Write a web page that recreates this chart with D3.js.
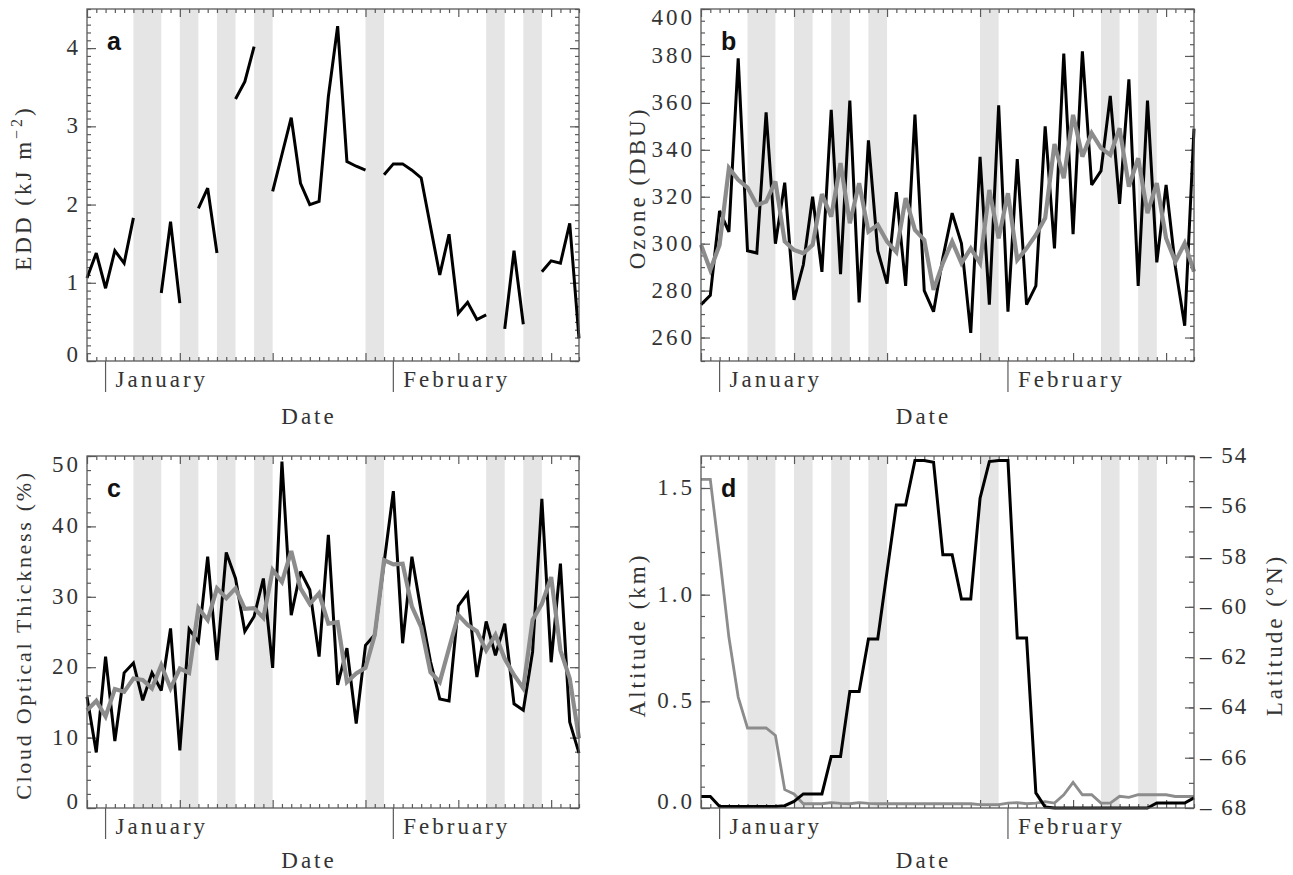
<!DOCTYPE html>
<html>
<head>
<meta charset="utf-8">
<script src="https://cdn.jsdelivr.net/npm/d3@7"></script>
<style>
  body { margin: 0; background: #fff; }
  svg { display: block; }
  text { font-family: "Liberation Serif", "DejaVu Serif", serif; fill: #333; letter-spacing: 3px; }
  .letter { font-family: "Liberation Sans", Arial, sans-serif; font-weight: bold; fill: #111; letter-spacing: 0; }
</style>
</head>
<body>
<svg id="chart" width="1293" height="875"></svg>
<script>
// day index 0 = 30 December, 2 = 1 January, 33 = 1 February
const days = d3.range(54);
const monthTicks = [{ day: 2, label: "January" }, { day: 33, label: "February" }];
const shadeBands = [[5, 8], [10, 12], [14, 16], [18, 20], [30, 32], [43, 45], [47, 49]];

// a: erythemal daily dose, kJ m^-2 (null = no data)
const eddValues = [1.06, 1.38, 0.93, 1.41, 1.25, 1.83, null, null, 0.87, 1.78,
  0.74, null, 1.95, 2.21, 1.38, null, 3.35, 3.57, 4.02, null,
  2.17, 2.64, 3.11, 2.27, 2.00, 2.04, 3.38, 4.28, 2.55, 2.49,
  2.44, null, 2.38, 2.52, 2.52, 2.44, 2.34, 1.72, 1.10, 1.62,
  0.61, 0.75, 0.53, 0.59, null, 0.41, 1.41, 0.47, null, 1.14,
  1.28, 1.25, 1.76, 0.29];

// b: ozone, DBU
const ozoneDaily = [274, 278, 314, 305, 379, 297, 296, 356, 300, 326,
  276, 291, 320, 288, 357, 287, 361, 275, 344, 297,
  283, 322, 282, 355, 280, 271, 294, 313, 300, 262,
  337, 274, 359, 271, 336, 274, 282, 350, 298, 381,
  304, 382, 325, 331, 363, 317, 370, 282, 361, 292,
  325, 290, 265, 349];
const ozoneSmooth = [299.5, 288.8, 299.5, 332.2, 327.2, 323.9, 316.5, 317.9, 326.5, 300.9,
  297.3, 295.9, 299.5, 321.1, 311.5, 334.3, 308.7, 325.8, 305.1, 308,
  300.9, 296.4, 319.4, 305.9, 301.6, 280.3, 291.7, 300.9, 291.7, 298,
  291.7, 322.9, 302.3, 321.5, 293.1, 298, 303.7, 310.9, 342.5, 327.9,
  354.9, 337.1, 347.1, 340.7, 337.8, 349.2, 324.3, 336.4, 313, 325.8,
  302.3, 292.3, 300.2, 288.1];

// c: cloud optical thickness, %
const codDaily = [15.8, 7.9, 21.5, 9.5, 19.2, 20.6, 15.3, 19.2, 16.7, 25.5,
  8.2, 25.4, 23.6, 35.7, 21.0, 36.3, 32.6, 25.1, 27.2, 32.6,
  19.9, 49.2, 27.4, 33.6, 31.0, 21.5, 38.8, 17.5, 22.7, 12.0,
  23.1, 24.6, 34.8, 45.0, 23.4, 35.7, 27.9, 20.8, 15.5, 15.2,
  28.7, 30.5, 18.6, 26.5, 21.7, 26.2, 14.8, 13.9, 22.2, 43.9,
  20.7, 34.7, 12.2, 7.8];
const codSmooth = [13.9, 15.2, 13.0, 16.9, 16.5, 18.4, 18.2, 17.0, 20.3, 17.0,
  19.8, 19.2, 28.4, 26.7, 31.2, 29.8, 31.2, 28.3, 28.4, 27.0,
  33.8, 32.1, 36.5, 31.2, 29.0, 30.5, 26.2, 26.4, 17.9, 19.1,
  19.9, 24.6, 35.2, 34.6, 34.7, 28.6, 25.7, 19.3, 17.9, 22.7,
  27.4, 26.0, 25.1, 22.4, 24.6, 21.2, 18.9, 17.0, 26.7, 29.0,
  32.8, 22.4, 18.4, 9.9];

// d: altitude (km, left axis) and latitude (right axis)
const altitudeKm = [1.54, 1.54, 1.18, 0.80, 0.52, 0.375, 0.375, 0.375, 0.34, 0.086,
  0.066, 0.02, 0.02, 0.02, 0.025, 0.022, 0.02, 0.025, 0.022, 0.02,
  0.02, 0.02, 0.02, 0.02, 0.02, 0.02, 0.02, 0.02, 0.02, 0.02,
  0.016, 0.016, 0.016, 0.023, 0.025, 0.02, 0.023, 0.03, 0.023, 0.062,
  0.12, 0.062, 0.062, 0.023, 0.023, 0.055, 0.05, 0.062, 0.062, 0.062,
  0.062, 0.054, 0.054, 0.054];
const latitudeN = [-67.54, -67.54, -67.94, -67.94, -67.94, -67.94, -67.94, -67.94, -67.94, -67.91,
  -67.74, -67.44, -67.44, -67.44, -65.95, -65.95, -63.37, -63.37, -61.28, -61.28,
  -58.6, -55.95, -55.95, -54.18, -54.18, -54.25, -57.93, -57.93, -59.69, -59.69,
  -55.68, -54.22, -54.18, -54.18, -61.24, -61.24, -67.4, -67.96, -68, -68,
  -68, -68, -68, -68, -68, -68, -68, -68, -68, -67.8,
  -67.8, -67.8, -67.8, -67.6];

const frameColor = "#5a5a5a";
const grey = "#8c8c8c";
const svg = d3.select("#chart");

function tickSet(g, axisFn, scale, values, size, tx, ty) {
  g.append("g")
    .attr("transform", `translate(${tx},${ty})`)
    .call(axisFn(scale).tickValues(values).tickSize(-size).tickFormat(""))
    .call(s => s.select(".domain").remove())
    .selectAll("line").attr("stroke", frameColor).attr("stroke-width", 1.2);
}

function range(a, b, step) {
  const out = [];
  for (let v = a; v <= b + step / 1000; v += step) out.push(+v.toFixed(4));
  return out;
}

function drawPanel(p) {
  const g = svg.append("g");
  const x = d3.scaleLinear().domain([0, 53]).range([p.left, p.right]);
  const y = d3.scaleLinear().domain(p.yDomain).range([p.bottom, p.top]);

  g.selectAll("rect.band").data(shadeBands).join("rect")
    .attr("class", "band")
    .attr("x", d => x(d[0])).attr("width", d => x(d[1]) - x(d[0]))
    .attr("y", p.top).attr("height", p.bottom - p.top)
    .attr("fill", "#e5e5e5");

  // x ticks, bottom and top
  const xMinor = days.filter(d => d % 10 !== 0);
  const xMajor = days.filter(d => d % 10 === 0);
  tickSet(g, d3.axisBottom, x, xMinor, 4, 0, p.bottom);
  tickSet(g, d3.axisBottom, x, xMajor, 8, 0, p.bottom);
  tickSet(g, d3.axisTop, x, xMinor, 4, 0, p.top);
  tickSet(g, d3.axisTop, x, xMajor, 8, 0, p.top);

  // y ticks left and (unless second axis) right
  tickSet(g, d3.axisLeft, y, p.yMinor, 4, p.left, 0);
  tickSet(g, d3.axisLeft, y, p.yMajor, 9, p.left, 0);
  if (!p.y2) {
    tickSet(g, d3.axisRight, y, p.yMinor, 4, p.right, 0);
    tickSet(g, d3.axisRight, y, p.yMajor, 9, p.right, 0);
  }

  g.selectAll("text.ylab").data(p.yMajor).join("text")
    .attr("class", "ylab")
    .attr("x", p.left - 6)
    .attr("y", d => {
      let yy = y(d) + 7;
      if (Math.abs(y(d) - p.bottom) < 1) yy -= 6;
      if (Math.abs(y(d) - p.top) < 1) yy += 9;
      return yy;
    })
    .attr("text-anchor", "end")
    .attr("font-size", 23)
    .text(p.fmt || (d => d));

  // second axis (panel d)
  let y2 = null;
  if (p.y2) {
    y2 = d3.scaleLinear().domain(p.y2.domain).range([p.bottom, p.top]);
    tickSet(g, d3.axisRight, y2, p.y2.minor, 5, p.right, 0);
    tickSet(g, d3.axisRight, y2, p.y2.major, 9, p.right, 0);
    g.selectAll("text.y2lab").data(p.y2.major).join("text")
      .attr("class", "y2lab")
      .attr("x", p.right + 6)
      .attr("y", d => y2(d) + 7)
      .attr("font-size", 23)
      .style("letter-spacing", "2px")
      .text(d => "\u2013 " + Math.abs(d));
    g.append("text")
      .attr("transform", `translate(${p.right + 88},${(p.top + p.bottom) / 2 + 3}) rotate(-90)`)
      .attr("text-anchor", "middle")
      .attr("font-size", 23)
      .text(p.y2.label);
  }

  // month markers
  monthTicks.forEach(m => {
    g.append("line")
      .attr("x1", x(m.day)).attr("x2", x(m.day))
      .attr("y1", p.bottom).attr("y2", p.bottom + 31)
      .attr("stroke", frameColor).attr("stroke-width", 1.2);
    g.append("text")
      .attr("x", x(m.day) + 10).attr("y", p.bottom + 26)
      .attr("font-size", 23)
      .text(m.label);
  });

  g.append("text")
    .attr("x", (p.left + p.right) / 2 - 24).attr("y", p.bottom + p.dateDy)
    .attr("text-anchor", "middle")
    .attr("font-size", 23)
    .text("Date");

  const ylab = g.append("text")
    .attr("transform", `translate(${p.left - 56},${(p.top + p.bottom) / 2 + 3}) rotate(-90)`)
    .attr("text-anchor", "middle")
    .attr("font-size", p.yLabelSize || 23);
  if (p.yLabelSpacing) ylab.style("letter-spacing", p.yLabelSpacing);
  p.yLabel(ylab);

  // series
  p.series.forEach(s => {
    const sc = s.axis === 2 ? y2 : y;
    const line = d3.line()
      .defined(d => d != null)
      .x((d, i) => x(i))
      .y(d => sc(d));
    g.append("path")
      .datum(s.values)
      .attr("fill", "none")
      .attr("stroke", s.color)
      .attr("stroke-width", s.width)
      .attr("stroke-linejoin", "miter")
      .attr("stroke-miterlimit", 3)
      .attr("d", line);
  });

  g.append("rect")
    .attr("x", p.left).attr("y", p.top)
    .attr("width", p.right - p.left).attr("height", p.bottom - p.top)
    .attr("fill", "none").attr("stroke", frameColor).attr("stroke-width", 1.3);

  g.append("text")
    .attr("class", "letter")
    .attr("x", p.left + 20).attr("y", p.top + 41)
    .attr("font-size", 25)
    .text(p.letter);
}

drawPanel({
  letter: "a", left: 87, right: 579, top: 9, bottom: 361, dateDy: 63,
  yDomain: [0, 4.5], yMajor: [0, 1, 2, 3, 4], yMinor: range(0, 4.5, 0.1),
  yLabel: t => {
    t.append("tspan").text("EDD (kJ m");
    t.append("tspan").attr("dy", -9).attr("font-size", 16).text("\u22122");
    t.append("tspan").attr("dy", 9).text(")");
  },
  series: [{ values: eddValues, color: "#000", width: 3 }]
});

drawPanel({
  letter: "b", left: 701, right: 1194, top: 9, bottom: 361, dateDy: 63,
  yDomain: [250, 400], yMajor: range(260, 400, 20), yMinor: range(250, 400, 5),
  yLabel: t => t.text("Ozone (DBU)"),
  series: [
    { values: ozoneDaily, color: "#000", width: 3 },
    { values: ozoneSmooth, color: grey, width: 4.2 }
  ]
});

drawPanel({
  letter: "c", left: 87, right: 579, top: 456, bottom: 808, dateDy: 60,
  yDomain: [0, 50], yMajor: range(0, 50, 10), yMinor: range(0, 50, 2),
  yLabelSize: 22, yLabelSpacing: "2.7px",
  yLabel: t => t.text("Cloud Optical Thickness (%)"),
  series: [
    { values: codDaily, color: "#000", width: 3 },
    { values: codSmooth, color: grey, width: 4.2 }
  ]
});

drawPanel({
  letter: "d", left: 701, right: 1194, top: 456, bottom: 808, dateDy: 60,
  yDomain: [0, 1.65], yMajor: [0, 0.5, 1.0, 1.5], yMinor: range(0, 1.6, 0.1),
  fmt: d3.format(".1f"),
  yLabel: t => t.text("Altitude (km)"),
  y2: { domain: [-68, -54], major: range(-68, -54, 2), minor: range(-68, -54, 1), label: "Latitude (\u00b0N)" },
  series: [
    { values: altitudeKm, color: grey, width: 2.8 },
    { values: latitudeN, color: "#000", width: 3, axis: 2 }
  ]
});
</script>
</body>
</html>
